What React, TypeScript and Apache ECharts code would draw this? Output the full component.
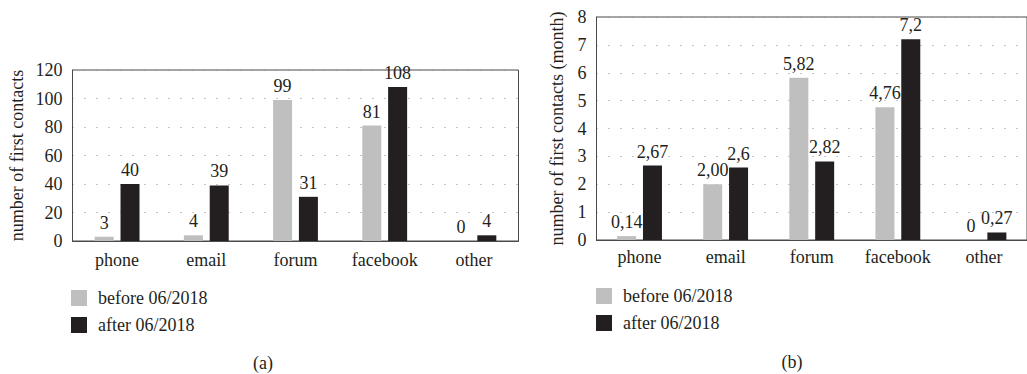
import React, { useEffect, useRef } from "react";
import * as echarts from "echarts";

const categories = ["phone", "email", "forum", "facebook", "other"];
const seriesNames = ["before 06/2018", "after 06/2018"];

// Panel (a): total counts
const beforeA = [3, 4, 99, 81, 0];
const afterA = [40, 39, 31, 108, 4];

// Panel (b): per month
const beforeB = [0.14, 2.0, 5.82, 4.76, 0];
const afterB = [2.67, 2.6, 2.82, 7.2, 0.27];
const beforeBLabels = ["0,14", "2,00", "5,82", "4,76", "0"];
const afterBLabels = ["2,67", "2,6", "2,82", "7,2", "0,27"];

const yNameA = "number of first contacts";
const yNameB = "number of first contacts (month)";

const FONT = "'Liberation Serif', 'Times New Roman', serif";
const FS = 18;
const TEXT = "#231f20";
const GRAY = "#bfbfbf";
const BLACK = "#231f20";
const FRAME = "#4a4a4a";
const DOTS = "#8a8a8a";

export default function App() {
  const ref = useRef<HTMLDivElement>(null);
  useEffect(() => {
    document.body.style.margin = "0";
    if (!ref.current) return;
    const chart = echarts.init(ref.current, null, { renderer: "svg" });

    const labelStyle = (fmt?: string[]) => ({
      show: true,
      position: "top" as const,
      distance: 5,
      fontFamily: FONT,
      fontSize: FS,
      color: TEXT,
      ...(fmt ? { formatter: (p: any) => fmt[p.dataIndex] } : {}),
    });

    const xAxisBase = (gridIndex: number, margin: number) => ({
      type: "category" as const,
      gridIndex,
      data: categories,
      axisTick: { show: false },
      axisLine: { show: true, lineStyle: { color: FRAME, width: 1 } },
      axisLabel: { fontFamily: FONT, fontSize: FS, color: TEXT, margin },
      splitLine: { show: false },
    });

    const yAxisBase = (gridIndex: number, max: number, interval: number, name: string, nameGap: number) => ({
      type: "value" as const,
      gridIndex,
      min: 0,
      max,
      interval,
      name,
      nameLocation: "middle" as const,
      nameGap,
      nameTextStyle: { fontFamily: FONT, fontSize: FS, color: TEXT },
      axisTick: { show: false },
      axisLine: { show: true, lineStyle: { color: FRAME, width: 1 } },
      axisLabel: { fontFamily: FONT, fontSize: FS, color: TEXT, margin: 10 },
      splitLine: { show: true, lineStyle: { color: DOTS, width: 1, type: [1, 11] } },
    });

    const legendGroup = (left: number, top: number) => ({
      type: "group" as const,
      left,
      top,
      children: [
        { type: "rect", shape: { x: 0, y: 0, width: 16, height: 16 }, style: { fill: GRAY } },
        { type: "text", x: 27, y: 8, style: { text: seriesNames[0], fontFamily: FONT, fontSize: FS, fill: TEXT, verticalAlign: "middle" } },
        { type: "rect", shape: { x: 0, y: 27, width: 16, height: 16 }, style: { fill: BLACK } },
        { type: "text", x: 27, y: 35, style: { text: seriesNames[1], fontFamily: FONT, fontSize: FS, fill: TEXT, verticalAlign: "middle" } },
      ],
    });

    chart.setOption({
      animation: false,
      textStyle: { fontFamily: FONT },
      grid: [
        { left: 72.5, top: 70, width: 446, height: 171, show: true, borderColor: FRAME, borderWidth: 1, containLabel: false },
        { left: 596.5, top: 17, width: 441, height: 223, show: true, borderColor: FRAME, borderWidth: 1, containLabel: false },
      ],
      xAxis: [xAxisBase(0, 10), xAxisBase(1, 8)],
      yAxis: [yAxisBase(0, 120, 20, yNameA, 47), yAxisBase(1, 8, 1, yNameB, 31)],
      series: [
        {
          name: seriesNames[0], type: "bar", xAxisIndex: 0, yAxisIndex: 0, data: beforeA,
          barWidth: 19, barGap: "36%", itemStyle: { color: GRAY }, label: labelStyle(),
        },
        {
          name: seriesNames[1], type: "bar", xAxisIndex: 0, yAxisIndex: 0, data: afterA,
          barWidth: 19, barGap: "36%", itemStyle: { color: BLACK }, label: labelStyle(),
        },
        {
          name: seriesNames[0], type: "bar", xAxisIndex: 1, yAxisIndex: 1, data: beforeB,
          barWidth: 19, barGap: "36%", itemStyle: { color: GRAY }, label: labelStyle(beforeBLabels),
        },
        {
          name: seriesNames[1], type: "bar", xAxisIndex: 1, yAxisIndex: 1, data: afterB,
          barWidth: 19, barGap: "36%", itemStyle: { color: BLACK }, label: labelStyle(afterBLabels),
        },
      ],
      graphic: [
        legendGroup(71, 289),
        legendGroup(596, 287),
        {
          type: "text", x: 263, y: 363,
          style: { text: "(a)", fontFamily: FONT, fontSize: FS, fill: TEXT, align: "center", verticalAlign: "middle" },
        },
        {
          type: "text", x: 792, y: 362,
          style: { text: "(b)", fontFamily: FONT, fontSize: FS, fill: TEXT, align: "center", verticalAlign: "middle" },
        },
      ],
    });
    return () => chart.dispose();
  }, []);
  return <div ref={ref} style={{ width: 1027, height: 374 }} />;
}
